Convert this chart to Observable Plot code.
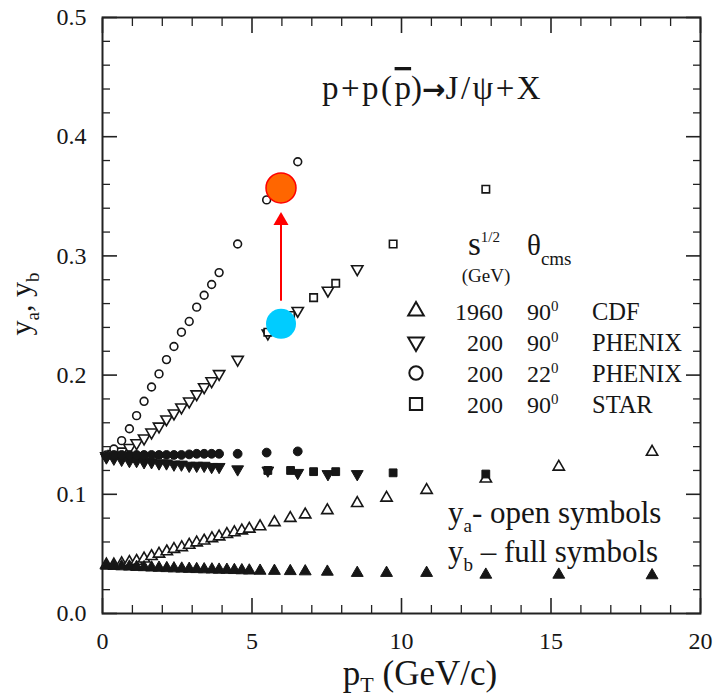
<!DOCTYPE html>
<html>
<head>
<meta charset="utf-8">
<script src="https://cdn.jsdelivr.net/npm/d3@7"></script>
<script src="https://cdn.jsdelivr.net/npm/@observablehq/plot@0.6"></script>
<style>
  body { margin: 0; background: #fff; }
</style>
</head>
<body>
<div id="chart"></div>
<script>
// J/psi ratios y_a (open symbols) and y_b (full symbols) versus pT (GeV/c)

// PHENIX, sqrt(s)=200 GeV, theta = 22 deg (circles)
const ptPhenix22 = [0.13, 0.38, 0.64, 0.90, 1.14, 1.39, 1.64, 1.89, 2.14, 2.39, 2.64, 2.90, 3.15, 3.40, 3.65, 3.90, 4.52, 5.49, 6.53];
const yaPhenix22 = [0.133, 0.138, 0.145, 0.155, 0.166, 0.178, 0.190, 0.201, 0.213, 0.224, 0.236, 0.245, 0.257, 0.267, 0.276, 0.286, 0.310, 0.347, 0.379];
const ybPhenix22 = [0.132, 0.133, 0.133, 0.133, 0.133, 0.133, 0.133, 0.133, 0.133, 0.133, 0.133, 0.1335, 0.134, 0.134, 0.134, 0.134, 0.134, 0.135, 0.136];

// PHENIX, sqrt(s)=200 GeV, theta = 90 deg (down triangles)
const ptPhenix90 = [0.13, 0.38, 0.64, 0.90, 1.14, 1.39, 1.64, 1.89, 2.14, 2.39, 2.64, 2.90, 3.15, 3.40, 3.65, 3.90, 4.52, 5.53, 6.53, 7.54, 8.52];
const yaPhenix90 = [0.132, 0.134, 0.136, 0.139, 0.143, 0.147, 0.152, 0.157, 0.163, 0.168, 0.173, 0.178, 0.184, 0.190, 0.195, 0.201, 0.213, 0.235, 0.254, 0.271, 0.289];
const ybPhenix90 = [0.131, 0.130, 0.129, 0.128, 0.128, 0.127, 0.127, 0.126, 0.126, 0.125, 0.125, 0.124, 0.124, 0.124, 0.123, 0.123, 0.121, 0.120, 0.118, 0.117, 0.117];

// STAR, sqrt(s)=200 GeV, theta = 90 deg (squares)
const ptStar = [5.53, 6.29, 7.06, 7.80, 9.72, 12.82];
const yaStar = [0.236, 0.250, 0.265, 0.277, 0.310, 0.356];
const ybStar = [0.120, 0.120, 0.119, 0.119, 0.118, 0.117];

// CDF, sqrt(s)=1960 GeV, theta = 90 deg (up triangles)
const ptCdf = [0.13, 0.38, 0.64, 0.90, 1.14, 1.39, 1.64, 1.89, 2.15, 2.39, 2.65, 2.90, 3.15, 3.40, 3.66, 3.90, 4.16, 4.41, 4.66, 4.91, 5.27, 5.75, 6.28, 6.78, 7.52, 8.52, 9.50, 10.84, 12.82, 15.26, 18.38];
const yaCdf = [0.041, 0.041, 0.042, 0.043, 0.044, 0.046, 0.048, 0.050, 0.052, 0.054, 0.0555, 0.0575, 0.0595, 0.061, 0.063, 0.0645, 0.0665, 0.068, 0.0695, 0.071, 0.073, 0.0765, 0.080, 0.083, 0.0865, 0.0925, 0.097, 0.1035, 0.113, 0.123, 0.1355];
const ybCdf = [0.040, 0.0398, 0.0395, 0.0393, 0.039, 0.0388, 0.0385, 0.0383, 0.038, 0.0378, 0.0376, 0.0374, 0.0372, 0.037, 0.0369, 0.0367, 0.0366, 0.0364, 0.0362, 0.036, 0.0358, 0.0357, 0.0355, 0.0353, 0.035, 0.034, 0.034, 0.034, 0.0325, 0.0325, 0.032];

// Highlighted shift at pT = 6 GeV/c
const highlightPt = 5.97;
const highlightLow = 0.243;
const highlightHigh = 0.357;
const arrowStart = 0.262;
const arrowHeadY = 0.3295;

// Axis ticks
const xMajor = [0, 5, 10, 15, 20];
const xMinor = d3.range(0, 21, 1).filter(v => v % 5 !== 0);
const yMajor = [0, 0.1, 0.2, 0.3, 0.4, 0.5];
const yMinor = d3.range(0, 26).filter(i => i % 5 !== 0).map(i => +(i * 0.02).toFixed(2));

// Legend
const legendRoots = ["1960", "200", "200", "200"];
const legendAngles = ["90", "90", "22", "90"];
const legendExperiments = ["CDF", "PHENIX", "PHENIX", "STAR"];
const legendSymbols = ["triangle", "triangle-down", "circle", "square"];

const serif = "Liberation Serif";
const ink = "#161616";
const rows = (pt, y) => pt.map((x, i) => ({x, y: y[i]}));
const open = {fill: "white", stroke: ink, strokeWidth: 1.6};
const full = {fill: ink, stroke: ink, strokeWidth: 1};
const tickStyle = {fill: "none", label: null, stroke: "#222"};

const chart = Plot.plot({
  width: 715,
  height: 698,
  marginLeft: 102,
  marginRight: 15,
  marginTop: 17,
  marginBottom: 85,
  style: {fontFamily: serif, background: "white", color: ink},
  x: {domain: [0, 20]},
  y: {domain: [0, 0.5]},
  marks: [
    // inward ticks on all four sides
    Plot.axisX(xMajor, {anchor: "bottom", tickSize: -15, strokeWidth: 1.6, ...tickStyle}),
    Plot.axisX(xMinor, {anchor: "bottom", tickSize: -8, strokeWidth: 1.3, ...tickStyle}),
    Plot.axisX(xMajor, {anchor: "top", tickSize: -15, strokeWidth: 1.6, ...tickStyle}),
    Plot.axisX(xMinor, {anchor: "top", tickSize: -8, strokeWidth: 1.3, ...tickStyle}),
    Plot.axisY(yMajor, {anchor: "left", tickSize: -15, strokeWidth: 1.6, ...tickStyle}),
    Plot.axisY(yMinor, {anchor: "left", tickSize: -8, strokeWidth: 1.3, ...tickStyle}),
    Plot.axisY(yMajor, {anchor: "right", tickSize: -15, strokeWidth: 1.6, ...tickStyle}),
    Plot.axisY(yMinor, {anchor: "right", tickSize: -8, strokeWidth: 1.3, ...tickStyle}),
    // tick labels
    Plot.axisX(xMajor, {anchor: "bottom", tickSize: 0, tickPadding: 18, fontSize: 24, label: null, fill: ink}),
    Plot.axisY(yMajor, {anchor: "left", tickSize: 0, tickPadding: 16, fontSize: 24, label: null, tickFormat: d3.format(".1f"), fill: ink}),
    Plot.frame({stroke: "#222", strokeWidth: 2}),

    // y_a: open symbols
    Plot.dot(rows(ptCdf, yaCdf), {x: "x", y: "y", symbol: "triangle", r: 4.2, ...open}),
    Plot.dot(rows(ptPhenix90, yaPhenix90), {x: "x", y: "y", symbol: "triangle", rotate: 180, r: 4.2, ...open}),
    Plot.dot(rows(ptPhenix22, yaPhenix22), {x: "x", y: "y", symbol: "circle", r: 3.9, ...open}),
    Plot.dot(rows(ptStar, yaStar), {x: "x", y: "y", symbol: "square", r: 4.2, ...open}),

    // y_b: full symbols
    Plot.dot(rows(ptCdf, ybCdf), {x: "x", y: "y", symbol: "triangle", r: 4.4, ...full}),
    Plot.dot(rows(ptPhenix90, ybPhenix90), {x: "x", y: "y", symbol: "triangle", rotate: 180, r: 4.4, ...full}),
    Plot.dot(rows(ptPhenix22, ybPhenix22), {x: "x", y: "y", symbol: "circle", r: 4.4, ...full}),
    Plot.dot(rows(ptStar, ybStar), {x: "x", y: "y", symbol: "square", r: 4.4, ...full}),

    // highlighted shift
    Plot.ruleX([highlightPt], {y1: arrowStart, y2: arrowHeadY, stroke: "red", strokeWidth: 2}),
    Plot.dot([{x: highlightPt, y: arrowHeadY}], {x: "x", y: "y", symbol: "triangle", r: 5.6, fill: "red", stroke: "none"}),
    Plot.dot([{x: highlightPt, y: highlightLow}], {x: "x", y: "y", r: 15, fill: "#00ccff", stroke: "none"}),
    Plot.dot([{x: highlightPt, y: highlightHigh}], {x: "x", y: "y", r: 15, fill: "#ff6600", stroke: "red", strokeWidth: 1.5})
  ]
});

document.getElementById("chart").append(chart);

const svg = d3.select(chart).attr("font-family", serif);

// Text built from runs; each run: {t, size, shift (baseline offset), family, weight, over, ls}
function rich(x, y, runs, anchor = "start") {
  const t = svg.append("text")
    .attr("x", x).attr("y", y)
    .attr("text-anchor", anchor)
    .attr("fill", ink)
    .attr("font-family", serif);
  let shift = 0;
  for (const r of runs) {
    const target = r.shift || 0;
    const ts = t.append("tspan")
      .attr("dy", target - shift)
      .attr("font-size", r.size)
      .text(r.t);
    if (r.family) ts.attr("font-family", r.family);
    if (r.weight) ts.attr("font-weight", r.weight);
    if (r.over) ts.style("text-decoration", "overline");
    if (r.ls) ts.attr("letter-spacing", r.ls);
    shift = target;
  }
  return t;
}

// axis titles
rich(420, 685, [{t: "p", size: 35}, {t: "T", size: 22, shift: 7}, {t: " (GeV/c)", size: 35}], "middle");
rich(0, 0, [{t: "y", size: 30}, {t: "a", size: 19, shift: 8}, {t: ", y", size: 30}, {t: "b", size: 19, shift: 8}], "middle")
  .attr("transform", "translate(31,304) rotate(-90)");

// reaction
rich(322, 99, [
  {t: "p+p(", size: 33, ls: 2.5},
  {t: "p", size: 33, over: true},
  {t: ")", size: 33},
  {t: "\u2192", size: 28, family: "DejaVu Sans", weight: "bold"},
  {t: "J/\u03c8+X", size: 33, ls: 2.5}
]);

// legend header
rich(468, 255, [{t: "s", size: 33}, {t: "1/2", size: 15, shift: -13}]);
rich(527, 255, [{t: "\u03b8", size: 29}, {t: "cms", size: 19, shift: 10}]);
rich(486, 282, [{t: "(GeV)", size: 19}], "middle");

// legend rows
const rowY = [320, 351, 382, 413];
const symbolFor = {
  "triangle": d3.symbol(d3.symbolTriangle, 105),
  "triangle-down": d3.symbol(d3.symbolTriangle, 105),
  "circle": d3.symbol(d3.symbolCircle, 140),
  "square": d3.symbol(d3.symbolSquare, 150)
};
legendExperiments.forEach((name, i) => {
  const y = rowY[i];
  svg.append("path")
    .attr("d", symbolFor[legendSymbols[i]]())
    .attr("transform", `translate(416,${y - 9})` + (legendSymbols[i] === "triangle-down" ? " rotate(180)" : ""))
    .attr("fill", "white").attr("stroke", ink).attr("stroke-width", 2);
  rich(503, y, [{t: legendRoots[i], size: 24}], "end");
  rich(527, y, [{t: legendAngles[i], size: 24}, {t: "0", size: 15, shift: -9}]);
  rich(592, y, [{t: name, size: 24.5}], "start");
});

// symbol key
rich(448, 523, [{t: "y", size: 31}, {t: "a", size: 19, shift: 9}, {t: "- open symbols", size: 31}]);
rich(448, 562, [{t: "y", size: 31}, {t: "b", size: 19, shift: 9}, {t: " \u2013 full symbols", size: 31}]);
</script>
</body>
</html>
